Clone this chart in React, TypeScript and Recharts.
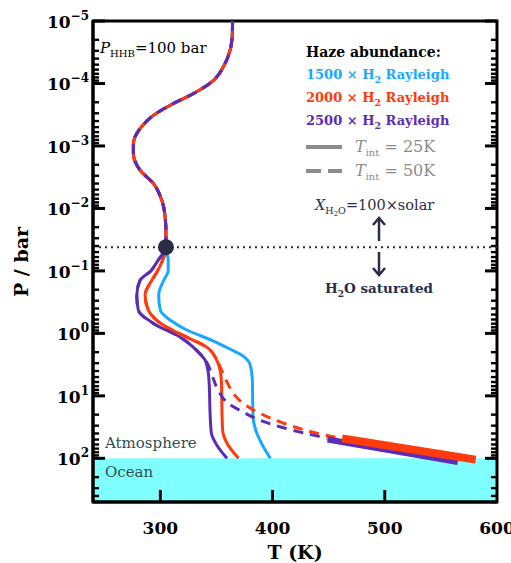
import React from "react";
import {
  ComposedChart,
  Line,
  XAxis,
  YAxis,
  ReferenceArea,
  ReferenceLine,
  ReferenceDot,
} from "recharts";

const W = 511;
const H = 563;
const BLUE = "#18a8ff";
const RED = "#ff3a0c";
const PURPLE = "#5a2db4";
const NAVY = "#2b2d48";
const GRAY = "#8c8c8c";
const SLATE = "#2f4f4f";
const SERIF = "'DejaVu Serif', serif";

// common upper part of every profile (T in K, P in bar)
const upperT = [364.4, 364, 362.3, 356.3, 347.4, 329.6, 311.7, 293.8, 282, 276, 276, 282, 293.8, 301.3, 304.3, 305, 305];
const upperP = [1e-5, 1.78e-5, 2.88e-5, 5.37e-5, 8.91e-5, 1.45e-4, 2.09e-4, 3.24e-4, 5.25e-4, 9.12e-4, 1.32e-3, 2.45e-3, 3.98e-3, 7.41e-3, 1.38e-2, 2.51e-2, 4.17e-2];

// 1500 x H2 Rayleigh, Tint = 25K
const blueT = [307, 307, 303, 298.5, 300, 309, 324, 346, 362, 372, 380, 382, 382.5, 385, 389, 398];
const blueP = [0.0676, 0.1, 0.141, 0.245, 0.427, 0.617, 0.891, 1.29, 1.78, 2.19, 3.16, 5.62, 19.95, 35.5, 52.5, 100];

// 2000 x H2 Rayleigh, Tint = 25K
const redT = [302, 297.5, 292.4, 286.4, 289.4, 302.8, 323.6, 341.4, 350.3, 353.4, 354.5, 355, 355.5, 359.4, 369.7];
const redP = [0.0676, 0.1, 0.141, 0.245, 0.427, 0.741, 1.15, 1.66, 2.69, 3.98, 6.31, 19.95, 35.5, 57.5, 100];

// 2500 x H2 Rayleigh, Tint = 25K
const purpleT = [298, 291.5, 282, 279, 280.4, 293.8, 317.7, 335.5, 340, 342.5, 343.5, 344.5, 345.5, 350.4, 359.4];
const purpleP = [0.0676, 0.1, 0.141, 0.245, 0.427, 0.692, 1.15, 2.14, 2.69, 3.98, 6.31, 22.4, 39.8, 61.7, 100];

// Tint = 50K branches (after leaving the 25K profiles)
const redDashT = [356, 360, 365, 376, 389, 410, 445, 462];
const redDashP = [4.47, 6.31, 9.12, 14.1, 19.1, 27.5, 41.7, 47.9];
const purpleDashT = [341, 345.5, 351.6, 360.5, 376, 384.6, 409.6, 449];
const purpleDashP = [2.82, 4.37, 8.13, 13.2, 19.1, 22.9, 32.4, 47.9];

// deep convective parts of the 50K profiles
const redThickT = [462, 581];
const redThickP = [47.9, 104.7];
const purpleThickT = [449, 565];
const purpleThickP = [50.1, 114.8];

const xDomain: [number, number] = [240, 600];
const xTicks = [300, 400, 500, 600];
const yDecades = [1e-5, 1e-4, 1e-3, 1e-2, 1e-1, 1, 10, 100];
const yDecadeLabels = ["−5", "−4", "−3", "−2", "−1", "0", "1", "2"];
const yMinorMult = [2, 3, 4, 5, 6, 7, 8, 9];
const yDomain: [number, number] = [1e-5, 500];

const zip = (t: number[], p: number[]) => t.map((v, i) => ({ t: v, p: p[i] }));

const upper = zip(upperT, upperP);
const blueData = [...upper, ...zip(blueT, blueP)];
const redData = [...upper, ...zip(redT, redP)];
const purpleData = [...upper, ...zip(purpleT, purpleP)];
const redDashData = [...redData.slice(0, upper.length + 9), ...zip(redDashT, redDashP)];
const purpleDashData = [...purpleData.slice(0, upper.length + 8), ...zip(purpleDashT, purpleDashP)];
const redThick = zip(redThickT, redThickP);
const purpleThick = zip(purpleThickT, purpleThickP);

const yMinor: number[] = [];
yDecades.forEach((d) => {
  yMinorMult.forEach((m) => {
    if (d * m <= yDomain[1]) yMinor.push(d * m);
  });
});

// tick sizes in data units (about 12 px / 6 px long, 3 px thick)
const TX_MAJOR = 10.7;
const TX_MINOR = 5.4;
const TY_HALF = 1.057; // half thickness of a y tick, as a factor in P
const TX_HALF = 1.3; // half thickness of an x tick, in K
const TY_MAJOR = 1.56; // length of an x tick, as a factor in P

const M = { top: 21, right: 14, bottom: 0, left: 0 };
const TM = 3;

const LeftTick = (props: any) => {
  const { x, y, payload } = props;
  const idx = yDecades.findIndex((d) => Math.abs(payload.value / d - 1) < 1e-6);
  if (idx < 0) return <g />;
  return (
    <text x={x - 1} y={y + 7} textAnchor="end" fontFamily={SERIF} fontWeight="bold" fontSize={17} fill="#000">
      <tspan>10</tspan>
      <tspan dy={-8} fontSize={12}>{yDecadeLabels[idx]}</tspan>
    </text>
  );
};

const BottomTick = (props: any) => {
  const { x, y, payload } = props;
  return (
    <text x={x} y={y + 10} textAnchor="middle" fontFamily={SERIF} fontWeight="bold" fontSize={17} fill="#000">
      {payload.value}
    </text>
  );
};

const Overlay = () => (
  <svg width={W} height={H} style={{ position: "absolute", left: 0, top: 0, pointerEvents: "none" }}>
    <text x={100} y={53} fontFamily={SERIF} fontSize={15} fill="#000">
      <tspan fontStyle="italic">P</tspan>
      <tspan dy={4} fontSize={10}>HHB</tspan>
      <tspan dy={-4}>=100 bar</tspan>
    </text>

    <g fontFamily={SERIF} fontWeight="bold">
      <text x={306} y={57} fontSize={14} fill="#000">Haze abundance:</text>
      {[
        ["1500", BLUE, 79],
        ["2000", RED, 102],
        ["2500", PURPLE, 125],
      ].map(([n, c, yy]) => (
        <text key={n as string} x={306} y={yy as number} fontSize={13} fill={c as string}>
          <tspan>{n} × H</tspan>
          <tspan dy={4} fontSize={9.5}>2</tspan>
          <tspan dy={-4}> Rayleigh</tspan>
        </text>
      ))}
    </g>

    <line x1={306} x2={342} y1={147} y2={147} stroke={GRAY} strokeWidth={4} />
    <line x1={306} x2={342} y1={171} y2={171} stroke={GRAY} strokeWidth={4} strokeDasharray="15 7" />
    <g fontFamily={SERIF} fontSize={16} fill={GRAY}>
      <text x={355} y={152}>
        <tspan fontStyle="italic">T</tspan>
        <tspan dy={4} fontSize={10}>int</tspan>
        <tspan dy={-4}> = 25K</tspan>
      </text>
      <text x={355} y={176}>
        <tspan fontStyle="italic">T</tspan>
        <tspan dy={4} fontSize={10}>int</tspan>
        <tspan dy={-4}> = 50K</tspan>
      </text>
    </g>

    <text x={315} y={210} fontFamily={SERIF} fontSize={14.5} fill={NAVY}>
      <tspan fontStyle="italic">X</tspan>
      <tspan dy={4} fontSize={9.5}>H</tspan>
      <tspan dy={2} fontSize={7}>2</tspan>
      <tspan dy={-2} fontSize={9.5}>O</tspan>
      <tspan dy={-4}>=100×solar</tspan>
    </text>
    <g stroke={NAVY} strokeWidth={2.5} fill="none">
      <line x1={379} x2={379} y1={241} y2={219} />
      <polyline points="373,225 379,218 385,225" />
      <line x1={379} x2={379} y1={252} y2={274} />
      <polyline points="373,268 379,275 385,268" />
    </g>
    <text x={325} y={293} fontFamily={SERIF} fontWeight="bold" fontSize={13.5} fill={NAVY}>
      <tspan>H</tspan>
      <tspan dy={4} fontSize={9}>2</tspan>
      <tspan dy={-4}>O saturated</tspan>
    </text>

    <text x={105} y={448} fontFamily={SERIF} fontSize={15} fill={SLATE}>Atmosphere</text>
    <text x={105} y={477} fontFamily={SERIF} fontSize={15} fill={SLATE}>Ocean</text>

    <text x={295} y={559} textAnchor="middle" fontFamily={SERIF} fontWeight="bold" fontSize={19} fill="#000">
      T (K)
    </text>
    <text
      transform="translate(28,262) rotate(-90)"
      textAnchor="middle"
      fontFamily={SERIF}
      fontWeight="bold"
      fontSize={19}
      fill="#000"
    >
      P / bar
    </text>
  </svg>
);

const ax = { xAxisId: "b", yAxisId: "l" } as const;
const inkArea = { ...ax, fill: "#000", fillOpacity: 1, stroke: "none", ifOverflow: "visible" } as const;

const lineProps = {
  ...ax,
  dataKey: "p",
  dot: false,
  activeDot: false,
  isAnimationActive: false,
} as const;

export default function App() {
  const [x0, x1] = xDomain;
  const [y0, y1] = yDomain;
  return (
    <div style={{ position: "absolute", left: 0, top: 0, width: W, height: H, background: "#fff" }}>
      <ComposedChart width={W} height={H} margin={M}>
        <XAxis
          xAxisId="b"
          type="number"
          dataKey="t"
          domain={xDomain}
          ticks={xTicks}
          allowDataOverflow
          height={61}
          tickSize={0}
          tickMargin={22}
          tickLine={false}
          axisLine={{ stroke: "#000", strokeWidth: 3 }}
          tick={<BottomTick />}
          interval={0}
        />
        <YAxis
          yAxisId="l"
          type="number"
          scale="log"
          domain={yDomain}
          allowDataOverflow
          reversed
          ticks={yDecades}
          interval={0}
          width={93}
          tickSize={0}
          tickMargin={TM}
          tickLine={false}
          axisLine={{ stroke: "#000", strokeWidth: 3 }}
          tick={<LeftTick />}
        />
        <ReferenceArea {...ax} x1={x0} x2={x1} y1={100} y2={y1} fill="#80ffff" fillOpacity={1} stroke="none" />
        <ReferenceLine {...ax} y={0.0417} stroke={NAVY} strokeWidth={2} strokeDasharray="2 4" />

        {/* plot frame */}
        <ReferenceArea {...ax} x1={x0} x2={x1} y1={y0} y2={y1} fill="none" fillOpacity={0} stroke="#000" strokeWidth={3} ifOverflow="visible" />

        {/* inward ticks as thin filled areas */}
        {yDecades.map((v) => (
          <ReferenceArea key={`lM${v}`} {...inkArea} x1={x0} x2={x0 + TX_MAJOR} y1={v / TY_HALF} y2={v * TY_HALF} />
        ))}
        {yDecades.map((v) => (
          <ReferenceArea key={`rM${v}`} {...inkArea} x1={x1 - TX_MAJOR} x2={x1} y1={v / TY_HALF} y2={v * TY_HALF} />
        ))}
        {yMinor.map((v) => (
          <ReferenceArea key={`lm${v}`} {...inkArea} x1={x0} x2={x0 + TX_MINOR} y1={v / 1.045} y2={v * 1.045} />
        ))}
        {yMinor.map((v) => (
          <ReferenceArea key={`rm${v}`} {...inkArea} x1={x1 - TX_MINOR} x2={x1} y1={v / 1.045} y2={v * 1.045} />
        ))}
        {xTicks
          .filter((t) => t < x1)
          .map((t) => (
            <ReferenceArea key={`b${t}`} {...inkArea} x1={t - TX_HALF} x2={t + TX_HALF} y1={y1 / TY_MAJOR} y2={y1} />
          ))}

        <Line {...lineProps} data={blueData} type="monotoneY" stroke={BLUE} strokeWidth={3} />
        <Line {...lineProps} data={purpleData} type="monotoneY" stroke={PURPLE} strokeWidth={3} />
        <Line {...lineProps} data={redData} type="monotoneY" stroke={RED} strokeWidth={3} />
        <Line {...lineProps} data={redDashData} type="monotoneY" stroke={RED} strokeWidth={3} strokeDasharray="10 7" />
        <Line {...lineProps} data={purpleDashData} type="monotoneY" stroke={PURPLE} strokeWidth={3} strokeDasharray="10 7" />
        <Line {...lineProps} data={purpleThick} type="linear" stroke={PURPLE} strokeWidth={6} />
        <Line {...lineProps} data={redThick} type="linear" stroke={RED} strokeWidth={8} />

        <ReferenceDot {...ax} x={305} y={0.0417} r={8} fill={NAVY} stroke="none" />
      </ComposedChart>
      <Overlay />
    </div>
  );
}
